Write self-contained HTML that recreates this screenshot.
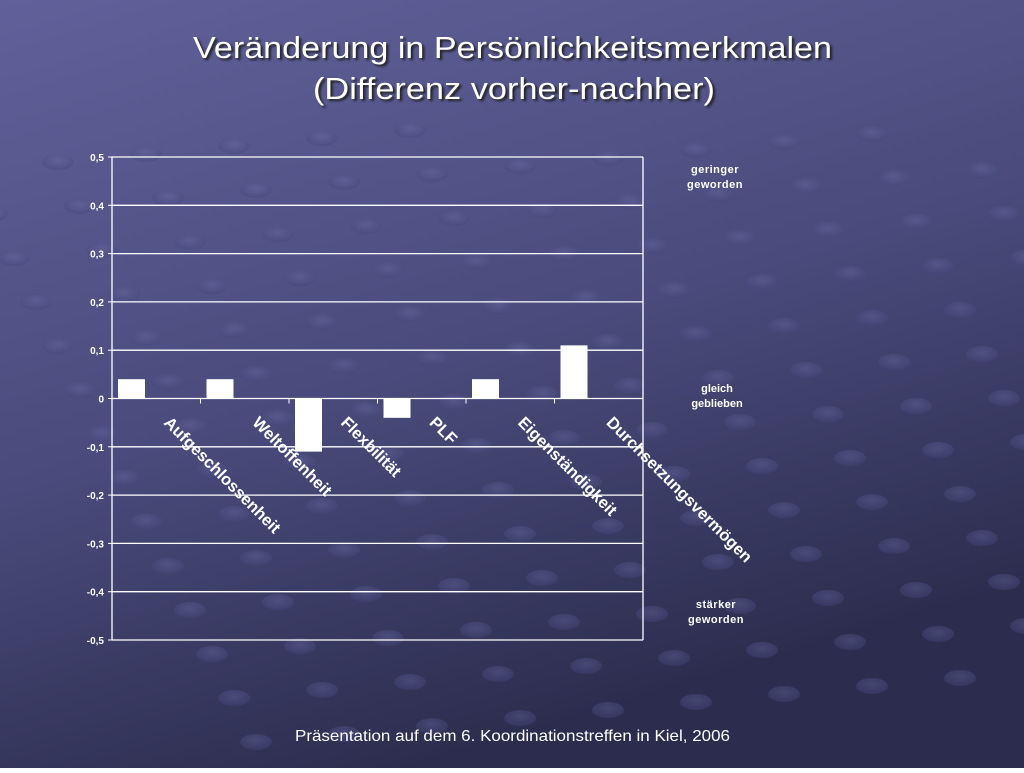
<!DOCTYPE html>
<html><head><meta charset="utf-8"><style>
html,body{margin:0;padding:0}
body{width:1024px;height:768px;overflow:hidden;font-family:"Liberation Sans",sans-serif}
</style></head><body>
<svg width="1024" height="768" xmlns="http://www.w3.org/2000/svg">
<defs>
<linearGradient id="bg" x1="0" y1="0" x2="0.4" y2="1">
<stop offset="0" stop-color="#60619a"/><stop offset="0.55" stop-color="#4a4b7c"/><stop offset="1" stop-color="#2c2d4e"/>
</linearGradient>
<radialGradient id="dot" cx="0.5" cy="0.4" r="0.6"><stop offset="0" stop-color="#6c6ea6"/><stop offset="1" stop-color="#44467a"/></radialGradient>
</defs>
<rect width="1024" height="768" fill="url(#bg)"/>
<g id="dots" opacity="0.4"></g>
<text x="193" y="58" font-size="31" textLength="639" lengthAdjust="spacingAndGlyphs" fill="#fff" style="text-shadow:2px 2px 2px #222">Veränderung in Persönlichkeitsmerkmalen</text>
<text x="313" y="99" font-size="31" textLength="402" lengthAdjust="spacingAndGlyphs" fill="#fff" style="text-shadow:2px 2px 2px #222">(Differenz vorher-nachher)</text>
<g id="chart"></g>
<text x="715" y="173" text-anchor="middle" font-size="11" font-weight="bold" fill="#fff" letter-spacing="0.5">geringer</text>
<text x="715" y="188" text-anchor="middle" font-size="11" font-weight="bold" fill="#fff" letter-spacing="0.5">geworden</text>
<text x="717" y="392" text-anchor="middle" font-size="11" font-weight="bold" fill="#fff">gleich</text>
<text x="717" y="407" text-anchor="middle" font-size="11" font-weight="bold" fill="#fff">geblieben</text>
<text x="716" y="608" text-anchor="middle" font-size="11" font-weight="bold" fill="#fff" letter-spacing="0.5">stärker</text>
<text x="716" y="623" text-anchor="middle" font-size="11" font-weight="bold" fill="#fff" letter-spacing="0.5">geworden</text>
<text x="295" y="741" font-size="16" textLength="435" lengthAdjust="spacingAndGlyphs" fill="#fff">Präsentation auf dem 6. Koordinationstreffen in Kiel, 2006</text>
</svg>
<script>
const categories=["Aufgeschlossenheit","Weltoffenheit","Flexbilität","PLF","Eigenständigkeit","Durchsetzungsvermögen"];
const values=[0.04,0.04,-0.11,-0.04,0.04,0.11];
const ticks=[0.5,0.4,0.3,0.2,0.1,0,-0.1,-0.2,-0.3,-0.4,-0.5];
const tickLabels=["0,5","0,4","0,3","0,2","0,1","0","-0,1","-0,2","-0,3","-0,4","-0,5"];
const NS="http://www.w3.org/2000/svg";
const L=112,R=643,T=157,B=640;
const y=v=>T+(0.5-v)/1.0*(B-T);
const bw=(R-L)/categories.length;
const x=i=>L+i*bw;
const g=document.getElementById('chart');
function mk(t,a,p){const e=document.createElementNS(NS,t);for(const k in a)e.setAttribute(k,a[k]);(p||g).appendChild(e);return e;}
const dg=document.getElementById('dots');
for(let r=0;r<14;r++)for(let c=0;c<14;c++){const cx=-30+c*88+r*22,cy=170+r*44+c*-8;if(cy<130||cy>760)continue;const e=mk('ellipse',{cx:cx,cy:cy,rx:16,ry:8,fill:'url(#dot)'},dg);

}
ticks.forEach((t,i)=>{const ln=mk('line',{x1:L,x2:R,y1:y(t),y2:y(t),stroke:'#fff','stroke-width':1.3});


const tk=mk('line',{x1:L-4,x2:L,y1:y(t),y2:y(t),stroke:'#fff'});


const tx=mk('text',{x:L-8,y:y(t)+4,'text-anchor':'end','font-size':10,'font-weight':'bold',fill:'#fff'});tx.textContent=tickLabels[i];

});
const ax=mk('line',{x1:L,x2:L,y1:T,y2:B,stroke:'#fff','stroke-width':1.3});


const ra=mk('line',{x1:R,x2:R,y1:T,y2:B,stroke:'#fff','stroke-width':1.3});


for(let i=1;i<=categories.length;i++){const t=mk('line',{x1:x(i),x2:x(i),y1:y(0),y2:y(0)+5,stroke:'#fff'});

}
values.forEach((v,i)=>{const y0=y(0),yv=y(v);const b=mk('rect',{x:x(i)+6,y:Math.min(y0,yv),width:27,height:Math.abs(yv-y0),fill:'#fff'});

});
categories.forEach((c,i)=>{const lx=x(i)+51,ly=y(0)+25;const t=mk('text',{x:lx,y:ly,transform:`rotate(45 ${lx} ${ly})`,'font-size':16.5,'font-weight':'bold',fill:'#fff'});t.textContent=c;

});
</script>
</body></html>
